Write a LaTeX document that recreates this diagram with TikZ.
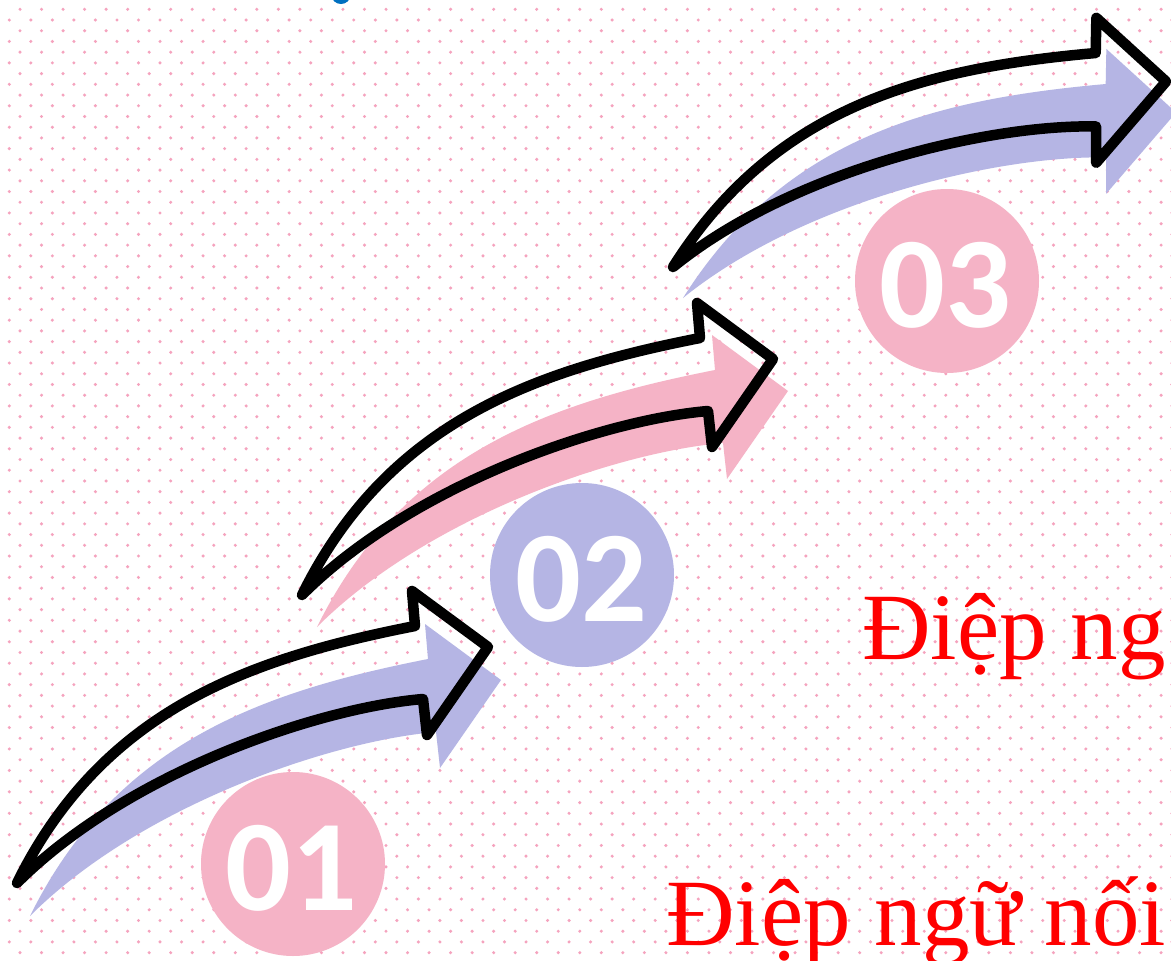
\documentclass[tikz,border=0pt]{standalone}
\usepackage{fontspec}
\newfontfamily\numfont{Carlito}[BoldFont={Carlito Bold}]
\newfontfamily\vnfont{Liberation Serif}
\definecolor{pinkc}{RGB}{245,179,198}
\definecolor{lavc}{RGB}{181,181,228}
\definecolor{dotc}{RGB}{245,163,190}
\definecolor{bluec}{RGB}{0,112,192}
\definecolor{redc}{RGB}{255,0,0}
\tikzset{
  arrowshape/.style={insert path={(0,0) .. controls (85,-172) and (230,-224) .. (398,-257)
     -- (395,-292) -- (471,-236) -- (410,-148) -- (406,-184)
     .. controls (300,-175) and (110,-110) .. (0,0) -- cycle}},
  outlinestyle/.style={draw=black, line width=10.5pt, line join=round, line cap=round},
  numcircle/.style={circle, minimum size=184pt, inner sep=0pt, draw=none},
  numtext/.style={text=white, font=\numfont\bfseries\fontsize{130}{130}\selectfont, inner sep=0pt},
  vntext/.style={text=redc, font=\vnfont\fontsize{95}{95}\selectfont, inner sep=0pt, anchor=base west}
}
\newcommand{\curvedarrow}[6]{%
  \begin{scope}[shift={(#1+#5,#2+#6)},rotate=#3]
    \fill[#4, arrowshape];
  \end{scope}
  \begin{scope}[shift={(#1,#2)},rotate=#3]
    \draw[outlinestyle, arrowshape];
  \end{scope}}
\begin{document}
\begin{tikzpicture}[x=1pt,y=-1pt]
\useasboundingbox (0,0) rectangle (1171,961);
\clip (0,0) rectangle (1171,961);
\fill[white] (0,0) rectangle (1171,961);
% dotted background
\foreach \j in {0,...,45}{
  \foreach \c in {0,...,54}{
    \fill[dotc] ({20+21.53*\c},{9.3+21.44*\j}) circle (1.7);
    \fill[dotc] ({9.3+21.53*\c},{20.0+21.44*\j}) circle (1.7);
  }
}
% partial blue glyph at top
\fill[bluec] (341,-5) ellipse (9.5 and 9);
% arrows
\curvedarrow{17}{883}{0}{lavc}{13}{33}
\curvedarrow{302}{595}{0}{pinkc}{15}{32}
\curvedarrow{673}{267}{-6}{lavc}{10}{31}
% numbered circles
\node[numcircle, fill=pinkc] (c1) at (293,864) {};
\node[numcircle, fill=lavc] (c2) at (582,575) {};
\node[numcircle, fill=pinkc] (c3) at (947,281) {};
\node[numtext] (t1) at (291,868) {01};
\node[numtext] (t2) at (581,579) {02};
\node[numtext] (t3) at (945,285) {03};
% texts
\node[vntext] (l1) at (862,659) {Điệp ng};
\node[vntext] (l2) at (666,945) {Điệp ngữ nối};
\end{tikzpicture}
\end{document}
